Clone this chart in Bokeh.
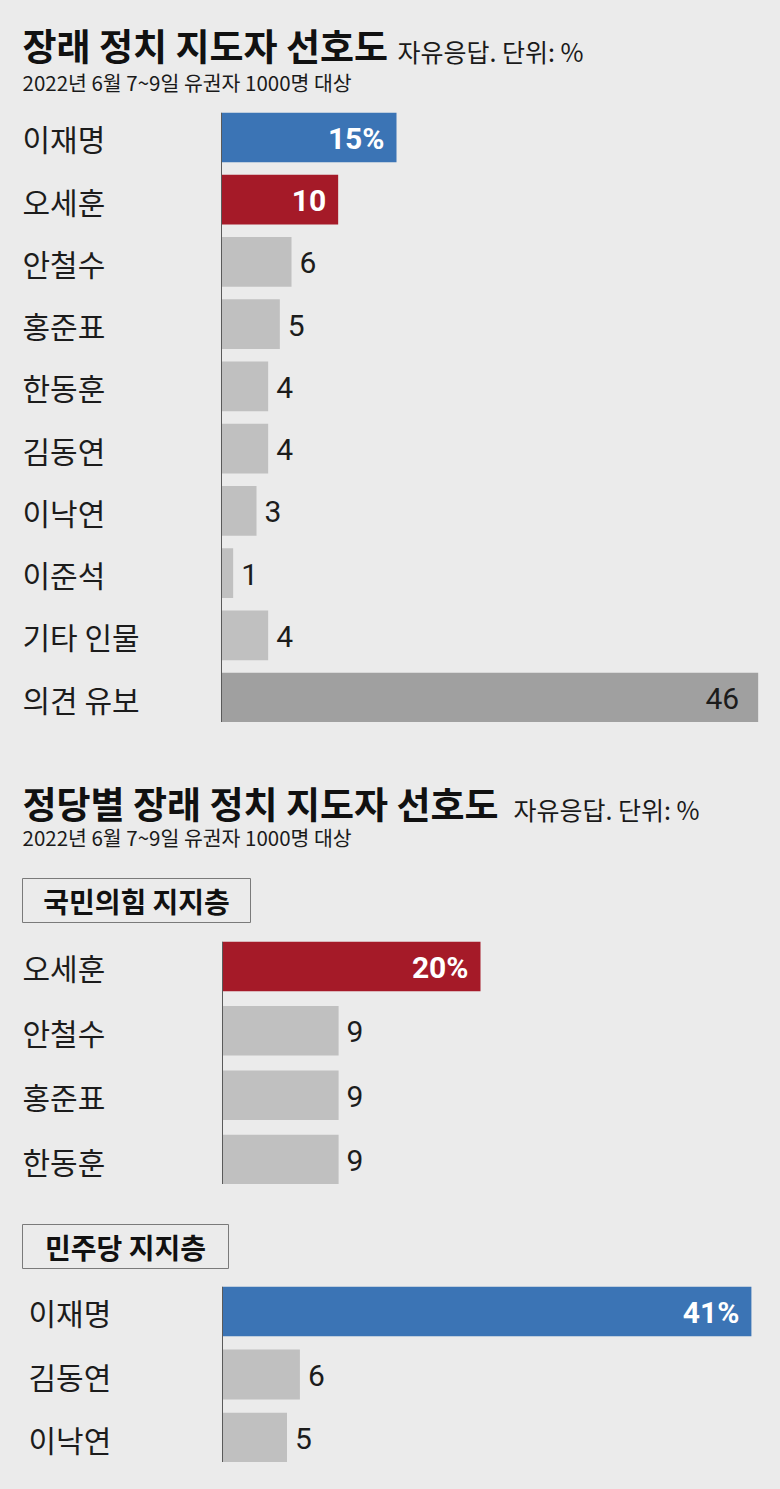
from bokeh.plotting import figure
from bokeh.layouts import column
from bokeh.models import ColumnDataSource, Range1d, Span
from bokeh.core.properties import value
from bokeh.embed import file_html
from bokeh.resources import INLINE

# ---------------- data ----------------
title1 = "장래 정치 지도자 선호도"
title2 = "정당별 장래 정치 지도자 선호도"
note = "자유응답. 단위: %"
survey = "2022년 6월 7~9일 유권자 1000명 대상"

names_all = ["이재명", "오세훈", "안철수", "홍준표", "한동훈", "김동연", "이낙연", "이준석", "기타 인물", "의견 유보"]
values_all = [15, 10, 6, 5, 4, 4, 3, 1, 4, 46]

group_a = "국민의힘 지지층"
names_a = ["오세훈", "안철수", "홍준표", "한동훈"]
values_a = [20, 9, 9, 9]

group_b = "민주당 지지층"
names_b = ["이재명", "김동연", "이낙연"]
values_b = [41, 6, 5]

# ---------------- style ----------------
BG = "#ebebeb"
KR = "Noto Sans CJK KR"
NUM = "Roboto"
DARK = "#1c1c1c"
PARTY = {"이재명": "#3b74b5", "오세훈": "#a51a28"}
UNDECIDED = "의견 유보"
W = 780
LEFT = 0  # page x of figure left edge


def base_fig(h, xr, yr):
    p = figure(width=W, height=h, x_range=xr, y_range=yr, output_backend="svg",
               toolbar_location=None, x_axis_type=None, y_axis_type=None,
               min_border=0, min_border_left=0, min_border_right=0,
               min_border_top=0, min_border_bottom=0)
    p.background_fill_color = BG
    p.border_fill_color = BG
    p.outline_line_color = None
    p.grid.visible = False
    return p


def header_fig(top, h):
    # coordinates in page pixels
    return base_fig(h, Range1d(LEFT, LEFT + W), Range1d(top + h, top))


def add_title(p, title, sub, x_sub, y_title, y_sub, y_line):
    p.text(x=[22], y=[y_title], text=[title], text_font=value(KR), text_font_style="bold",
           text_font_size="37px", text_color="#111111", text_baseline="middle")
    p.text(x=[x_sub], y=[y_sub], text=[sub], text_font=value(KR),
           text_font_size="25px", text_color="#1a1a1a", text_baseline="middle")
    p.text(x=[22], y=[y_line], text=[survey], text_font=value(KR),
           text_font_size="20.5px", text_color="#1a1a1a", text_baseline="middle")


def add_box(p, label, x0, x1, y0, y1):
    p.quad(left=[x0], right=[x1], top=[y0], bottom=[y1], fill_color=BG,
           line_color="#7a7a7a", line_width=1)
    p.text(x=[(x0 + x1) / 2], y=[(y0 + y1) / 2], text=[label], text_font=value(KR),
           text_font_style="bold", text_font_size="28px", text_color="#111111",
           text_align="center", text_baseline="middle")


def chart_fig(names, vals, h, axis_x, px_per, label_x, frac):
    n = len(names)
    pad = frac / 2
    xr = Range1d((LEFT - axis_x) / px_per, (LEFT + W - axis_x) / px_per)
    yr = Range1d(n - 1 + pad, -pad)
    p = base_fig(h, xr, yr)
    ys = list(range(n))
    colors = [PARTY.get(nm, "#a0a0a0" if nm == UNDECIDED else "#c0c0c0") for nm in names]
    src = ColumnDataSource(dict(y=ys, v=vals, name=names, color=colors))
    p.hbar(y="y", left=0, right="v", height=frac, fill_color="color", line_color=None, source=src)
    p.add_layout(Span(location=0, dimension="height", line_color="#5a5a5a", line_width=1))
    p.text(x=0, y="y", text="name", source=src, x_offset=label_x - axis_x,
           text_font=value(KR), text_font_size="30px", text_color=DARK,
           text_baseline="middle", y_offset=1)
    labels = [f"{v}%" if i == 0 else f"{v}" for i, v in enumerate(vals)]
    ins = [i for i, nm in enumerate(names) if nm in PARTY]
    mid = [i for i, nm in enumerate(names) if nm == UNDECIDED]
    out = [i for i, nm in enumerate(names) if nm not in PARTY and nm != UNDECIDED]
    if ins:
        s = ColumnDataSource(dict(x=[vals[i] for i in ins], y=[ys[i] for i in ins],
                                  t=[labels[i] for i in ins]))
        p.text(x="x", y="y", text="t", source=s, x_offset=-12, text_align="right",
               text_baseline="middle", text_font=value(NUM), text_font_style="bold",
               text_font_size="30px", text_color="white", y_offset=1)
    if mid:
        s = ColumnDataSource(dict(x=[vals[i] for i in mid], y=[ys[i] for i in mid],
                                  t=[labels[i] for i in mid]))
        p.text(x="x", y="y", text="t", source=s, x_offset=-19, text_align="right",
               text_baseline="middle", text_font=value(NUM),
               text_font_size="30px", text_color=DARK, y_offset=1)
    if out:
        s = ColumnDataSource(dict(x=[vals[i] for i in out], y=[ys[i] for i in out],
                                  t=[labels[i] for i in out]))
        p.text(x="x", y="y", text="t", source=s, x_offset=8, text_align="left",
               text_baseline="middle", text_font=value(NUM),
               text_font_size="30px", text_color=DARK, y_offset=1)
    return p


# header 1 : page y 0..112
f1 = header_fig(0, 112)
add_title(f1, title1, note, 397, 44.5, 50, 81)

# chart 1 : page y 112..722
f2 = chart_fig(names_all, values_all, 610, 221, 175 / 15, 22, 0.8)

# header 2 : page y 722..941
f3 = header_fig(722, 219)
add_title(f3, title2, note, 513, 802, 808, 836)
add_box(f3, group_a, 22, 250, 878, 922)

# chart a : page y 941..1184
f4 = chart_fig(names_a, values_a, 243, 222, 258 / 20, 22, 0.77)

# box b : page y 1184..1286
f5 = header_fig(1184, 102)
add_box(f5, group_b, 22, 228, 1224, 1268)

# chart b : page y 1286..1462
f6 = chart_fig(names_b, values_b, 176, 222, 258 / 20, 28, 0.79)

# bottom padding : page y 1462..1489
f7 = header_fig(1462, 27)

layout = column(f1, f2, f3, f4, f5, f6, f7, spacing=0)
layout.styles = {"background-color": BG}

open("out.html", "w").write(file_html(layout, INLINE))
